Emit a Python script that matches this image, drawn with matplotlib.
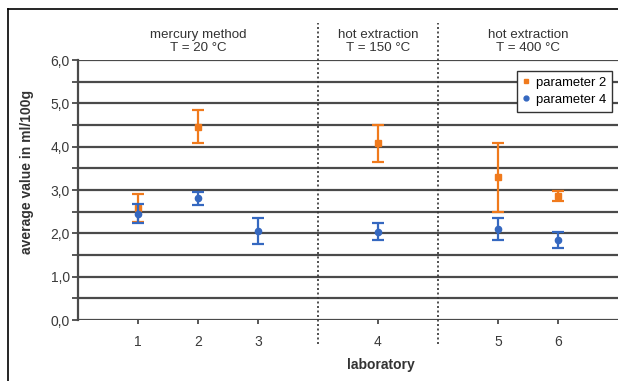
import numpy as np
import matplotlib
matplotlib.use("Agg")
import matplotlib.pyplot as plt
from matplotlib.lines import Line2D

plt.rcParams["font.family"] = ["Liberation Sans", "DejaVu Sans"]

# data
labs = ["1", "2", "3", "4", "5", "6"]
p2_mean = [2.58, 4.46, np.nan, 4.08, 3.29, 2.86]
p2_err = [0.32, 0.38, np.nan, 0.43, 0.79, 0.12]
p4_mean = [2.45, 2.81, 2.06, 2.04, 2.10, 1.85]
p4_err = [0.22, 0.15, 0.30, 0.20, 0.25, 0.18]
groups = ["mercury method\nT = 20 °C", "hot extraction\nT = 150 °C", "hot extraction\nT = 400 °C"]

# layout: slots on category axis, empty slots hold the separators
x_pos = [1, 2, 3, 5, 7, 8]
sep_pos = [4, 6]
group_pos = [2, 5, 7.5]

orange = "#F07A1C"
blue = "#3568C0"
grid_c = "#4a4a4a"

W, H = 618, 381
fig = plt.figure(figsize=(6.18, 3.81), dpi=100)
ax = fig.add_axes([78 / W, 1 - 320 / H, 540 / W, 260 / H])

ax.set_xlim(0, 9)
ax.set_ylim(0, 6)

for y in np.arange(0.5, 6.01, 0.5):
    ax.axhline(y, color=grid_c, lw=1.6, zorder=1)

ax.errorbar(x_pos, p2_mean, yerr=p2_err, fmt="s", color=orange, ms=4.5,
            capsize=4, elinewidth=1.6, capthick=1.6, zorder=3)
ax.errorbar(x_pos, p4_mean, yerr=p4_err, fmt="o", color=blue, ms=4.5,
            capsize=4, elinewidth=1.6, capthick=1.6, zorder=4)

for s in sep_pos:
    ax.plot([s, s], [-0.55, 6.85], color="#333333", lw=1.2, ls=(0, (1.2, 1.5)),
            clip_on=False, zorder=2)

for g, gx in zip(groups, group_pos):
    ax.text(gx, 6.13, g, ha="center", va="bottom", fontsize=9.6,
            color="#333333", linespacing=1.15)

ax.set_yticks(np.arange(0, 6.01, 1.0))
ax.set_yticklabels([f"{v:.1f}".replace(".", ",") for v in np.arange(0, 6.01, 1.0)])
ax.set_yticks(np.arange(0.5, 6, 1.0), minor=True)
ax.set_xticks(x_pos)
ax.set_xticklabels(labs)

ax.tick_params(axis="y", which="both", length=4, width=1.3, color=grid_c,
               labelsize=10, labelcolor="#3a3a3a", pad=2)
ax.tick_params(axis="x", length=3, width=1.3, color=grid_c, labelsize=10,
               labelcolor="#3a3a3a", pad=8)

for side in ["top", "right", "bottom"]:
    ax.spines[side].set_visible(False)
ax.spines["left"].set_color(grid_c)
ax.spines["left"].set_linewidth(1.6)
ax.axhline(0, color=grid_c, lw=1.6, zorder=1)

ax.set_xlabel("laboratory", fontsize=10, fontweight="bold", color="#333333")
ax.xaxis.set_label_coords((381 - 78) / 540, (320 - 365) / 260)
ax.xaxis.label.set_va("center")
ax.set_ylabel("average value in ml/100g", fontsize=10, fontweight="bold", color="#333333")
ax.yaxis.set_label_coords((27 - 78) / 540, (320 - 172) / 260)
ax.yaxis.label.set_va("center")

handles = [Line2D([], [], ls="none", marker="s", ms=3.5, color=orange),
           Line2D([], [], ls="none", marker="o", ms=3.5, color=blue)]
leg = ax.legend(handles, ["parameter 2", "parameter 4"], loc="upper right",
                bbox_to_anchor=(0.989, 0.958), borderaxespad=0, fontsize=9.4,
                frameon=True, fancybox=False, edgecolor="#333333",
                handlelength=0.5, handletextpad=0.5, borderpad=0.45,
                labelspacing=0.35)
leg.get_frame().set_linewidth(1.0)
leg.get_frame().set_alpha(1)

# figure frame (left and top)
fig.add_artist(Line2D([8 / W, 8 / W], [0, 1 - 9 / H], transform=fig.transFigure,
                      color="black", lw=1.2))
fig.add_artist(Line2D([8 / W, 1], [1 - 9 / H, 1 - 9 / H], transform=fig.transFigure,
                      color="black", lw=1.2))

fig.savefig("out.png", dpi=100)
